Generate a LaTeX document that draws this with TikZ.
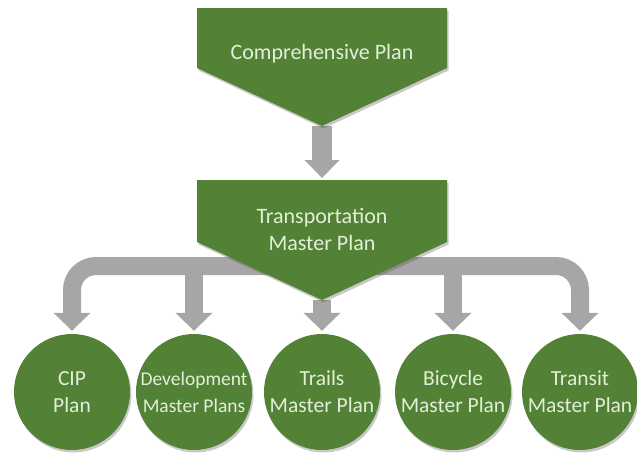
\documentclass[tikz,border=0pt]{standalone}
\usepackage{fontspec}
\setmainfont{Carlito}
\usetikzlibrary{arrows.meta,shadows,positioning}

\definecolor{planGreen}{HTML}{538135}
\definecolor{planText}{HTML}{E2EFD9}
\definecolor{arrowGray}{HTML}{A6A6A6}

\begin{document}
\begin{tikzpicture}[x=1pt, y=-1pt,
	planshape/.style={fill=planGreen, drop shadow={shadow xshift=1.5pt, shadow yshift=-2.5pt, opacity=0.3, fill=black!70}},
	plantext/.style={text=planText, font=\fontsize{22}{27}\selectfont, align=center, inner sep=0pt},
	plancircle/.style={planshape, circle, minimum size=116pt, inner sep=0pt, text=planText, font=\fontsize{21.5}{27}\selectfont, align=center},
	flowarrow/.style={draw=arrowGray, line width=18pt, -{Triangle[length=18pt, width=36pt]}, shorten >=3pt},
	mainarrow/.style={draw=arrowGray, line width=20pt, -{Triangle[length=18pt, width=34pt]}}]

	\useasboundingbox (0,0) rectangle (637,455);

	\def\Xmid{322};
	\def\Ybar{266};
	\def\Ycirc{392};

	% Anchor points
	\coordinate (comp tip) at (\Xmid,126);
	\coordinate (trans top) at (\Xmid,178);
	\coordinate (trans tip) at (\Xmid,300);
	\coordinate (bar) at (\Xmid,\Ybar);

	% Plan circles
	\node[plancircle] (cip) at (72,\Ycirc) {CIP\\Plan};
	\node[plancircle, font=\fontsize{19.5}{27}\selectfont] (dev) at (194,\Ycirc) {Development\\Master Plans};
	\node[plancircle] (trails) at (\Xmid,\Ycirc) {Trails\\Master Plan};
	\node[plancircle] (bike) at (453,\Ycirc) {Bicycle\\Master Plan};
	\node[plancircle] (transit) at (580,\Ycirc) {Transit\\Master Plan};

	% Gray arrows
	\draw[mainarrow] (comp tip) -- (trans top);
	\draw[flowarrow, rounded corners=24pt] (bar) -| (cip.north);
	\draw[flowarrow, rounded corners=24pt] (bar) -| (transit.north);
	\foreach \n in {dev, bike}
		\draw[flowarrow] (bar -| \n.north) -- (\n.north);
	\draw[flowarrow] (trans tip) -- (trails.north);

	% Plan chevrons
	\fill[planshape] (197,8) -- (447,8) -- (447,68) -- (comp tip) -- (197,68) -- cycle;
	\fill[planshape] (197,180) -- (447,180) -- (447,242) -- (trans tip) -- (197,242) -- cycle;

	\node[plantext] (comp) at (\Xmid,54) {Comprehensive Plan};
	\node[plantext] (trans) at (\Xmid,229) {Transportation\\Master Plan};

\end{tikzpicture}
\end{document}
